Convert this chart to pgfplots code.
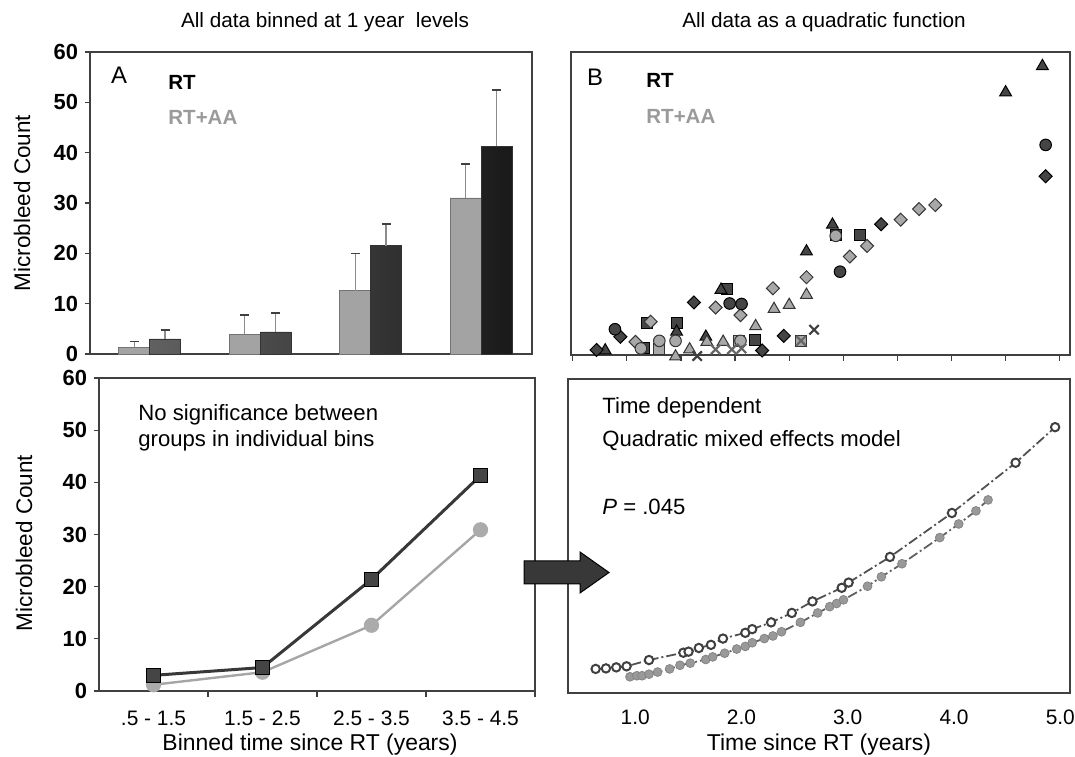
\documentclass[border=0pt]{standalone}
\usepackage{fontspec}
\setmainfont{Liberation Sans}
\usepackage{pgfplots}
\pgfplotsset{compat=1.18}
\newcommand{\fs}[1]{\fontsize{#1}{#1}\selectfont}
\definecolor{lightbar}{HTML}{A3A3A3}
\definecolor{darkmk}{HTML}{454545}
\definecolor{lightmk}{HTML}{A8A8A8}
\definecolor{frame}{HTML}{404040}
\definecolor{ltext}{HTML}{9A9A9A}
\begin{document}
\begin{tikzpicture}
\useasboundingbox (0,0) rectangle (537.5bp,378.5bp);
\pgfplotsset{
  every axis/.append style={scale only axis, anchor=south west,
    axis line style={draw=frame, line width=0.7bp},
    tick style={draw=frame, line width=0.6bp},
    /pgf/number format/assume math mode=true},
  dmk/.style={only marks, mark options={fill=darkmk, draw=black, line width=0.5bp, #1}},
  dmk/.default={},
  lmk/.style={only marks, mark options={fill=lightmk, draw=black!80, line width=0.5bp, #1}},
  lmk/.default={},
  eb/.style={error bars/.cd, y dir=plus, y explicit,
    error bar style={draw=black!45, line width=0.7bp},
    error mark options={rotate=90, draw=black!75, line width=0.8bp, mark size=2.2bp}},
}
% ---------------- Panel A (bins at 1..4; light bar left, dark bar right of each bin centre)
\begin{axis}[at={(45bp,201.5bp)}, width=221bp, height=151bp,
  xmin=0.46, xmax=4.46, ymin=0, ymax=60, ytick={0,10,...,60}, xtick=\empty,
  ytick pos=left, tick align=outside, major tick length=2.5bp,
  yticklabel style={font=\bfseries\fs{11}}, clip=false]
\addplot[ybar, bar width=0.28, bar shift=0pt, fill=lightbar, draw=black!55, line width=0.3bp, eb]
  coordinates {(0.86,1.3) +- (0,1.2) (1.86,3.9) +- (0,3.8) (2.86,12.6) +- (0,7.4) (3.86,31.0) +- (0,6.8)};
\addplot[ybar, bar width=0.28, bar shift=0pt, left color=black!62, right color=black!90, draw=black!80, line width=0.3bp, eb]
  coordinates {(1.14,3.0) +- (0,1.8) (2.14,4.4) +- (0,3.7) (3.14,21.5) +- (0,4.3) (4.14,41.3) +- (0,11.2)};
\end{axis}
% ---------------- Panel B
\begin{axis}[at={(285.5bp,201bp)}, width=249.5bp, height=151.5bp,
  xmin=0.484, xmax=5.095, ymin=0, ymax=60, ytick=\empty,
  xtick={0.5,1.0,1.5,2.0,2.5,3.0,3.5,4.0,4.5,5.0}, xticklabel=\empty,
  xtick pos=bottom, tick align=outside, major tick length=3bp, clip=false]
% dark squares
\addplot[dmk, mark=square*, mark size=2.75bp] coordinates {(1.16,1.3) (1.19,6.4) (1.46,6.4) (1.93,13.0) (2.18,3.0) (2.93,23.8) (3.15,23.8)};
% dark triangles
\addplot[dmk, mark=triangle*, mark size=3.4bp] coordinates {(0.80,0.9) (1.46,4.6) (1.73,3.6) (1.87,12.9) (2.66,20.5) (2.90,25.8) (4.50,52.0) (4.84,57.2)};
% dark diamonds
\addplot[dmk={rotate=45}, mark=square*, mark size=2.3bp] coordinates {(0.72,1.0) (0.94,3.6) (1.62,10.4) (2.25,0.9) (2.45,3.8) (3.35,25.9) (4.87,35.4)};
% light squares
\addplot[lmk, mark=square*, mark size=2.75bp] coordinates {(1.30,1.1) (2.04,2.8) (2.61,2.8)};
% light diamonds
\addplot[lmk={rotate=45}, mark=square*, mark size=2.3bp] coordinates {(1.08,2.6) (1.22,6.6) (1.82,9.4) (2.05,7.9) (2.35,13.2) (2.66,15.4) (3.06,19.5) (3.22,21.6) (3.53,26.8) (3.70,28.9) (3.85,29.7)};
% light triangles
\addplot[lmk, mark=triangle*, mark size=3.4bp] coordinates {(1.45,-0.3) (1.58,1.1) (1.74,2.6) (1.89,2.6) (2.19,5.7) (2.36,9.1) (2.50,9.9) (2.66,11.9)};
% light circles
\addplot[lmk, mark=*, mark size=2.9bp] coordinates {(1.13,1.3) (1.30,2.8) (1.45,2.8) (2.05,2.8) (2.93,23.6)};
% dark circles
\addplot[dmk, mark=*, mark size=2.9bp] coordinates {(0.89,5.1) (1.95,10.2) (2.06,10.1) (2.97,16.5) (4.87,41.6)};
% crosses
\addplot[only marks, mark=x, mark size=3.3bp, mark options={draw=black!75, line width=1.1bp}] coordinates {(1.65,-0.2) (2.73,5.0)};
\addplot[only marks, mark=x, mark size=3.3bp, mark options={draw=black!60, line width=1.1bp}] coordinates {(1.82,1.1) (1.97,1.1) (2.06,1.3) (2.61,2.8)};
\end{axis}
% ---------------- Panel C
\begin{axis}[at={(49.5bp,33bp)}, width=218bp, height=156.5bp,
  xmin=0.5, xmax=4.5, ymin=0, ymax=60, ytick={0,10,...,60},
  xtick={1,2,3,4}, xticklabels={.5 - 1.5, 1.5 - 2.5, 2.5 - 3.5, 3.5 - 4.5},
  minor xtick={1.5,2.5,3.5,4.5},
  xtick pos=bottom, ytick pos=left, tick align=outside,
  major tick length=2.5bp, minor tick length=3bp,
  every major x tick/.append style={draw=none},
  xticklabel style={font=\fs{10.5}, yshift=-4bp},
  yticklabel style={font=\bfseries\fs{11}}, clip=false]
\addplot[draw=black!35, line width=1.2bp, mark=*, mark size=3.2bp, mark options={fill=black!33, draw=black!33}]
  coordinates {(1,1.2) (2,3.6) (3,12.6) (4,30.9)};
\addplot[draw=black!78, line width=1.5bp, mark=square*, mark size=3.6bp, mark options={fill=darkmk, draw=black, line width=0.6bp}]
  coordinates {(1,3.0) (2,4.5) (3,21.4) (4,41.3)};
\end{axis}
% ---------------- Panel D
\begin{axis}[at={(284bp,32bp)}, width=251bp, height=157bp,
  xmin=0.368, xmax=5.091, ymin=0, ymax=60, ytick=\empty,
  xtick={1,2,3,4,5}, xticklabels={1.0,2.0,3.0,4.0,5.0}, major tick length=0bp,
  xticklabel style={font=\fs{10.5}, yshift=-5bp}, clip=false]
\addplot[draw=black!62, line width=0.9bp, dash pattern=on 5bp off 1.5bp on 1bp off 1.5bp,
  mark=*, mark size=2.2bp, mark options={solid, fill=black!40, draw=black!48, line width=0.4bp}]
  coordinates {(0.951,3.1) (1.016,3.3) (1.065,3.3) (1.130,3.6) (1.211,4.0) (1.324,4.6) (1.421,5.3) (1.518,5.7) (1.664,6.4) (1.729,6.9) (1.842,7.6) (1.955,8.4) (2.036,8.9) (2.101,9.6) (2.215,10.4) (2.296,10.9) (2.377,11.7) (2.555,13.5) (2.717,15.3) (2.830,16.5) (2.895,17.1) (2.960,17.8) (3.186,20.4) (3.316,22.2) (3.510,24.7) (3.866,29.7) (4.044,32.3) (4.206,34.8) (4.320,36.9)};
\addplot[draw=black!68, line width=0.9bp, dash pattern=on 5bp off 1.5bp on 1bp off 1.5bp,
  mark=*, mark size=2.1bp, mark options={solid, fill=white, draw=black!75, line width=1bp}]
  coordinates {(0.628,4.6) (0.725,4.7) (0.822,4.9) (0.919,5.1) (1.130,6.3) (1.453,7.7) (1.502,7.9) (1.599,8.6) (1.713,9.2) (1.826,10.4) (2.036,11.5) (2.101,12.2) (2.279,13.5) (2.474,15.3) (2.668,17.5) (2.943,20.1) (3.008,21.1) (3.397,26.0) (3.980,34.4) (4.579,44.0) (4.951,50.8)};
\end{axis}
% ---------------- arrow
\draw[fill=black!78, draw=black, line width=0.5bp]
  (262bp,86.5bp) -- (290bp,86.5bp) -- (290bp,82bp) -- (304.5bp,92.25bp) -- (290bp,102.5bp) -- (290bp,98bp) -- (262bp,98bp) -- cycle;
% ---------------- texts
\node[font=\fs{10.4}] at (162.5bp,367.5bp) {All data binned at 1 year\ \ levels};
\node[font=\fs{10.4}] at (412bp,367.5bp) {All data as a quadratic function};
\node[font=\fs{11.3}, rotate=90] at (11bp,277bp) {Microbleed Count};
\node[font=\fs{11.3}, rotate=90] at (12bp,107bp) {Microbleed Count};
\node[font=\fs{11.5}] at (155bp,6bp) {Binned time since RT (years)};
\node[font=\fs{11.5}] at (409.5bp,6bp) {Time since RT (years)};
\node[font=\fs{12}] at (59.5bp,341bp) {A};
\node[font=\bfseries\fs{10.3}, anchor=west, inner sep=0pt] at (84bp,337.5bp) {RT};
\node[font=\bfseries\fs{10.3}, anchor=west, inner sep=0pt, text=ltext] at (84bp,320bp) {RT+AA};
\node[font=\fs{12}] at (297.5bp,340bp) {B};
\node[font=\bfseries\fs{10.3}, anchor=west, inner sep=0pt] at (323bp,338.5bp) {RT};
\node[font=\bfseries\fs{10.3}, anchor=west, inner sep=0pt, text=ltext] at (323bp,320.5bp) {RT+AA};
\node[font=\fs{11.1}, anchor=west, inner sep=0pt] at (69bp,171bp) {No significance between};
\node[font=\fs{11.1}, anchor=west, inner sep=0pt] at (69bp,158bp) {groups in individual bins};
\node[font=\fs{11.1}, anchor=west, inner sep=0pt] at (301bp,174.5bp) {Time dependent};
\node[font=\fs{11.1}, anchor=west, inner sep=0pt] at (301bp,158bp) {Quadratic mixed effects model};
\node[font=\fs{11.1}, anchor=west, inner sep=0pt] at (301bp,125bp) {\textit{P} = .045};
\end{tikzpicture}
\end{document}
